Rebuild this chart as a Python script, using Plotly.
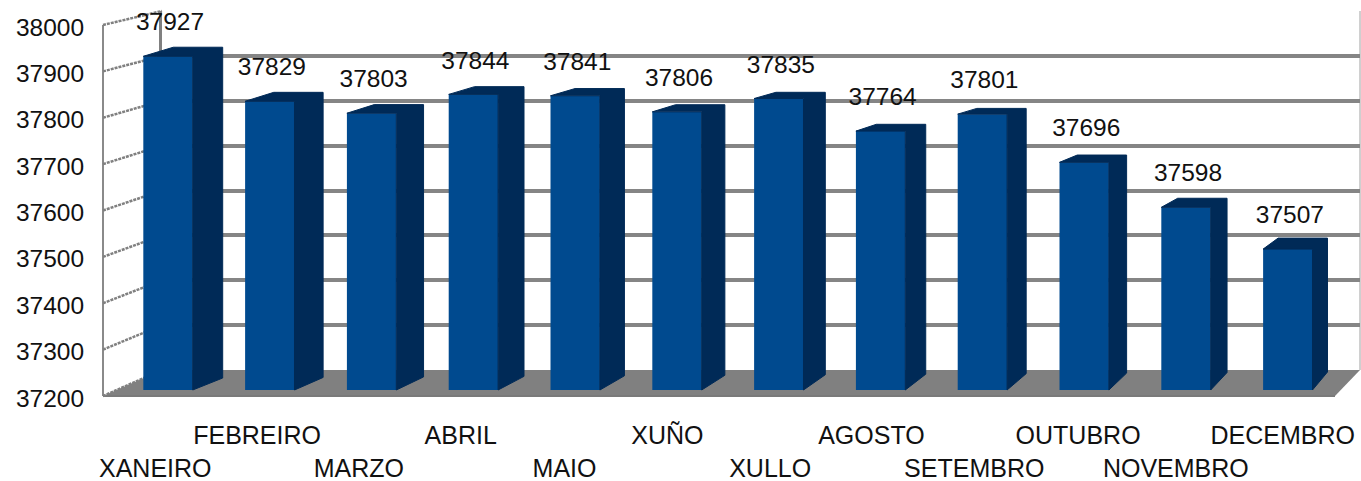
import plotly.graph_objects as go

months = ["XANEIRO", "FEBREIRO", "MARZO", "ABRIL", "MAIO", "XUÑO", "XULLO",
          "AGOSTO", "SETEMBRO", "OUTUBRO", "NOVEMBRO", "DECEMBRO"]
values = [37927, 37829, 37803, 37844, 37841, 37806, 37835, 37764, 37801, 37696, 37598, 37507]
y_ticks = [37200, 37300, 37400, 37500, 37600, 37700, 37800, 37900, 38000]

W, H = 1361, 481
ML, MB = 103, 83
PW, PH = W - ML, H - MB
FONT = "Liberation Sans"
FS = 24.5
FRONT, DARK, GRID = "#004a8f", "#002a57", "#858585"

idx = list(range(len(values)))
STEP = 101.8
PX_PER_UNIT = 0.459
BASE = y_ticks[0]
BAR_W = 0.485
x_rng = [(ML - 168) / STEP, (W - 168) / STEP]
y_rng = [BASE - 8 / PX_PER_UNIT, BASE + 390 / PX_PER_UNIT]


def back(i, x, v):
    """Project a front-face point onto the bar's rear face."""
    t = i / (len(values) - 1)
    dx = (30 - 15 * t) / STEP
    dy = (12 + 6 * t) - (v - BASE) * (0.004 + 0.0188 * t)
    return x + dx, v + dy / PX_PER_UNIT


sx, sy = [], []
for i, v in zip(idx, values):
    l, r = i - BAR_W / 2, i + BAR_W / 2
    bx1, by1 = back(i, r, v)
    bx0, by0 = back(i, l, v)
    bx2, by2 = back(i, r, BASE)
    poly = [(r, BASE), (r, v), (l, v), (bx0, by0), (bx1, by1), (bx2, by2), (r, BASE)]
    sx += [p[0] for p in poly] + [None]
    sy += [p[1] for p in poly] + [None]

fig = go.Figure()
fig.add_trace(go.Scatter(x=[0], y=[BASE], xaxis="x", yaxis="y", mode="markers",
                         marker=dict(opacity=0), hoverinfo="skip", showlegend=False))
fig.add_trace(go.Scatter(x=sx, y=sy, xaxis="x2", yaxis="y2", mode="lines", fill="toself",
                         fillcolor=DARK, line=dict(color=DARK, width=1),
                         hoverinfo="skip", showlegend=False))
fig.add_trace(go.Bar(x=idx, y=[v - BASE for v in values], base=BASE, width=BAR_W,
                     xaxis="x2", yaxis="y2", marker=dict(color=FRONT, line=dict(width=0)),
                     showlegend=False))
fig.add_trace(go.Scatter(x=[i + 0.02 for i in idx], y=[v + 32 / PX_PER_UNIT for v in values],
                         xaxis="x2", yaxis="y2", mode="text", text=[str(v) for v in values],
                         textposition="middle center", textfont=dict(family=FONT, size=FS, color="#111111"),
                         cliponaxis=False, hoverinfo="skip", showlegend=False))
# invisible trace that activates the front-plane value axis
fig.add_trace(go.Scatter(x=[0], y=[BASE], xaxis="x2", yaxis="y3", mode="markers",
                         marker=dict(opacity=0), hoverinfo="skip", showlegend=False))


def px(x):
    return (x - ML) / PW


def py(y):
    return (H - MB - y) / PH


shapes = [dict(type="path", xref="paper", yref="paper", layer="below", line=dict(width=0),
               fillcolor="#808080",
               path=f"M {px(103)} {py(396)} L {px(1335)} {py(396)} L {px(1360)} {py(370)} L {px(162)} {py(370)} Z"),
          dict(type="line", xref="paper", yref="paper", layer="below", x0=px(103), x1=px(1335),
               y0=py(396), y1=py(396), line=dict(color="#7a7a7a", width=2)),
          dict(type="line", xref="paper", yref="paper", layer="below", x0=px(103), x1=px(103),
               y0=py(396), y1=py(25), line=dict(color="#8a8a8a", width=2)),
          dict(type="line", xref="paper", yref="paper", layer="below", x0=px(1360), x1=px(1360),
               y0=py(370), y1=py(11), line=dict(color="#a0a0a0", width=1))]
for t in y_ticks:
    f = (t - y_ticks[0]) / (y_ticks[-1] - y_ticks[0])
    shapes.append(dict(type="line", xref="paper", yref="paper", layer="below",
                       x0=px(103), x1=px(162),
                       y0=py(396 - 371 * f), y1=py(370 - 359 * f),
                       line=dict(color="#808080", width=2.5, dash="3px,1px")))

tick_shift = [-0.125, -0.125, -0.125, -0.125, -0.105, -0.095, -0.085, -0.09, -0.08, -0.06, -0.10, -0.05]
tick_vals = [i + s for i, s in zip(idx, tick_shift)]
tick_text = [m if i % 2 else "&nbsp;<br>" + m for i, m in enumerate(months)]

fig.update_layout(
    width=W, height=H, autosize=False, margin=dict(l=ML, r=0, t=0, b=MB),
    paper_bgcolor="white", plot_bgcolor="rgba(0,0,0,0)", showlegend=False, shapes=shapes,
    xaxis=dict(domain=[(162 - ML) / PW, (1360 - ML) / PW], range=[0, 1], visible=False, anchor="y"),
    yaxis=dict(domain=[28 / PH, 387 / PH], range=[y_ticks[0], y_ticks[-1]], anchor="x",
               tickvals=y_ticks, showticklabels=False, showgrid=True, gridcolor=GRID, gridwidth=3.5,
               zeroline=False, showline=True, linecolor="#808080", linewidth=3, ticks=""),
    xaxis2=dict(domain=[0, 1], range=x_rng, anchor="y2", tickmode="array", tickvals=tick_vals,
                ticktext=tick_text, tickangle=0, ticks="outside", ticklen=15,
                tickcolor="rgba(0,0,0,0)", showgrid=False, zeroline=False, showline=False,
                ticklabeloverflow="allow", automargin=False,
                tickfont=dict(family=FONT, size=25, color="#111111")),
    yaxis2=dict(domain=[0, 1], range=y_rng, anchor="x2", visible=False),
    yaxis3=dict(domain=[0, 371 / PH], range=[y_ticks[0], y_ticks[-1]], anchor="x2", side="left",
                tickmode="array", tickvals=y_ticks, ticktext=[str(t) for t in y_ticks],
                ticks="outside", ticklen=13, tickcolor="rgba(0,0,0,0)", showgrid=False, zeroline=False,
                showline=False, automargin=False,
                tickfont=dict(family=FONT, size=FS, color="#111111")),
)
fig.write_html("out.html", config=dict(displayModeBar=False),
               post_script="document.body.style.margin='0';document.documentElement.style.overflow='hidden';")
